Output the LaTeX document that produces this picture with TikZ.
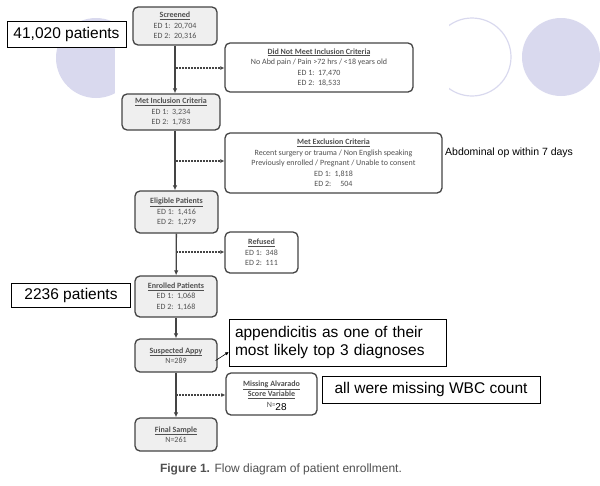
\documentclass[tikz,border=0pt]{standalone}
\usepackage{fontspec}
\setmainfont{Carlito}
\newfontfamily\notefont{Liberation Sans}
\usetikzlibrary{positioning, arrows.meta, calc}

\definecolor{lavender}{HTML}{D9D9EE}
\definecolor{boxfill}{HTML}{EFEFEF}
\definecolor{boxline}{HTML}{444444}
\definecolor{flowtext}{HTML}{505050}

\tikzset{
  mainbox/.style={draw=boxline, line width=1.3pt, rounded corners=5pt, fill=boxfill,
    align=center, text=flowtext, inner sep=0pt, font=\fontsize{8}{10.5}\selectfont},
  sidebox/.style={mainbox, fill=white},
  notebox/.style={draw=black, line width=0.5pt, fill=white, align=left, inner sep=0pt,
    font=\notefont\fontsize{15.5}{18}\selectfont},
  flow/.style={draw=boxline, line width=1.3pt, -{Latex[length=5pt,width=4.5pt]}},
  skip/.style={draw=boxline, line width=1.2pt, dash pattern=on 2pt off 1pt, -{Latex[length=4pt,width=4pt]}},
}

\begin{document}
\begin{tikzpicture}[x=1pt, y=-1pt]
      \useasboundingbox (0,0) rectangle (600,485);

      % slide decoration
      \fill[lavender] (96,58) circle (40);
      \draw[lavender, line width=1.2pt] (472,57) circle (39);
      \fill[lavender] (561,57) circle (39);
      \fill[white] (115,0) rectangle (449,485);

      % main column
      \node[mainbox, minimum width=84, minimum height=38] (screened) at (175,26)
        {\textbf{\underline{Screened}}\\ED 1:\ \ 20,704\\ED 2:\ \ 20,316};
      \node[mainbox, minimum width=98, minimum height=36] (metinc) at (171,112)
        {\textbf{\underline{Met Inclusion Criteria}}\\ED 1:\ \ 3,234\\ED 2:\ \ 1,783};
      \node[mainbox, minimum width=83, minimum height=42] (eligible) at (176.5,212)
        {\textbf{\underline{Eligible Patients}}\\ED 1:\ \ 1,416\\ED 2:\ \ 1,279};
      \node[mainbox, minimum width=82, minimum height=41] (enrolled) at (176,296.5)
        {\textbf{\underline{Enrolled Patients}}\\ED 1:\ \ 1,068\\ED 2:\ \ 1,168};
      \node[mainbox, minimum width=82, minimum height=33] (suspected) at (176,355.5)
        {\textbf{\underline{Suspected Appy}}\\N=289};
      \node[mainbox, minimum width=82, minimum height=33] (final) at (176,434.5)
        {\textbf{\underline{Final Sample}}\\N=261};

      % side boxes
      \node[sidebox, minimum width=188, minimum height=49] (notmet) at (319,67.5)
        {\textbf{\underline{Did Not Meet Inclusion Criteria}}\\No Abd pain / Pain >72 hrs / <18 years old\\ED 1:\ \ 17,470\\ED 2:\ \ 18,533};
      \node[sidebox, minimum width=217, minimum height=60] (metexc) at (333.5,163)
        {\textbf{\underline{Met Exclusion Criteria}}\\Recent surgery or trauma / Non English speaking\\Previously enrolled / Pregnant / Unable to consent\\ED 1:\ \ 1,818\\ED 2:\ \ \ \ \ 504};
      \node[sidebox, minimum width=73, minimum height=41] (refused) at (261.5,252.5)
        {\textbf{\underline{Refused}}\\ED 1:\ \ 348\\ED 2:\ \ 111};
      \node[sidebox, minimum width=91, minimum height=42] (missing) at (271.5,394)
        {\textbf{\underline{Missing Alvarado}}\\\textbf{\underline{Score Variable}}\\N=\hspace{9pt}};
      \node[fill=white, inner sep=0.5pt, font=\notefont\fontsize{10}{10}\selectfont] (n28) at (281,407.5) {28};

      % connectors
      \draw[flow] (screened) -- (screened |- metinc.north);
      \draw[flow] (screened |- metinc.south) -- (screened |- eligible.north);
      \draw[flow] (eligible) -- (enrolled);
      \draw[flow] (enrolled) -- (suspected);
      \draw[flow] (suspected) -- (final);

      \coordinate (s1) at (176,68);
      \coordinate (s2) at (176,161);
      \coordinate (s3) at (176,252);
      \coordinate (s4) at (176,395);
      \draw[skip] (s1) -- (s1 -| notmet.west);
      \draw[skip] (s2) -- (s2 -| metexc.west);
      \draw[skip] (s3) -- (s3 -| refused.west);
      \draw[skip] (s4) -- (s4 -| missing.west);

      % notes on the slide
      \node[notebox, minimum width=119, minimum height=26, align=center] (screenednote) at (66.5,34) {41,020 patients};
      \node[notebox, minimum width=119, minimum height=24, align=center] (enrollednote) at (71,295) {2236 patients};
      \node[notebox, minimum width=217, minimum height=47, text width=205] (appxnote) at (337.5,342.5)
        {appendicitis as one of their\\most likely top 3 diagnoses};
      \node[notebox, minimum width=218, minimum height=27, align=center] (wbcnote) at (431,389.5) {all were missing WBC count};
      \node[anchor=west, inner sep=0pt, font=\notefont\fontsize{10.5}{12}\selectfont] (abdnote) at (445,153) {Abdominal op within 7 days};
      \draw[black, line width=0.6pt, -{Latex[length=3.5pt,width=3.5pt]}] ([xshift=-2pt,yshift=-5pt]suspected.east) -- ([yshift=-9.5pt]appxnote.west);

      % caption
      \node[text=flowtext, font=\notefont\fontsize{12}{14}\selectfont] (caption) at (281,469)
        {\textbf{Figure 1.} Flow diagram of patient enrollment.};
\end{tikzpicture}
\end{document}
